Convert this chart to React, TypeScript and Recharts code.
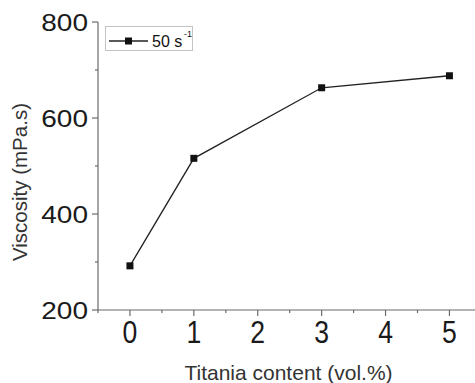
import React from "react";
import { LineChart, Line, XAxis, YAxis, Legend, Label } from "recharts";

// titania loading (vol.%) vs viscosity at 50 s^-1
const titaniaContent = [0, 1, 3, 5];
const viscosity = [292, 516, 663, 688];
const xTicks = [-0.5, 0, 0.5, 1, 1.5, 2, 2.5, 3, 3.5, 4, 4.5, 5];
const yTicks = [200, 300, 400, 500, 600, 700, 800];
const seriesName = "50 s";

const data = titaniaContent.map((c, i) => ({ content: c, viscosity: viscosity[i] }));

const FONT = "Arial, 'Liberation Sans', Helvetica, sans-serif";
const AXIS = "#6b6b6b";

const XTick = (props: any) => {
  const { x, y, payload } = props;
  const major = Number.isInteger(payload.value);
  return (
    <g>
      <line x1={x} x2={x} y1={y} y2={y + (major ? 6 : 3)} stroke={AXIS} strokeWidth={1.2} />
      {major && (
        <text
          transform={`translate(${x} ${y + 33}) scale(0.95 1.15)`}
          textAnchor="middle"
          fontSize={28}
          fontFamily={FONT}
          fill="#1a1a1a"
        >
          {payload.value}
        </text>
      )}
    </g>
  );
};

const YTick = (props: any) => {
  const { x, y, payload } = props;
  const major = payload.value % 200 === 0;
  return (
    <g>
      <line x1={x - (major ? 6 : 3)} x2={x} y1={y} y2={y} stroke={AXIS} strokeWidth={1.2} />
      {major && (
        <text
          transform={`translate(${x - 10} ${y + 9}) scale(1 0.87)`}
          textAnchor="end"
          fontSize={28}
          fontFamily={FONT}
          fill="#1a1a1a"
        >
          {payload.value}
        </text>
      )}
    </g>
  );
};

const SquareDot = (props: any) => {
  const { cx, cy, index } = props;
  return <rect key={index} x={cx - 3.5} y={cy - 3.5} width={7} height={7} fill="#111" />;
};

const LegendBox = (props: any) => {
  const entry = props.payload && props.payload[0];
  return (
    <svg width={88} height={25} style={{ display: "block" }}>
      <rect x={0.5} y={0.5} width={87} height={24} fill="#fff" stroke="#c4c4c4" />
      <line x1={4} x2={43} y1={15} y2={15} stroke="#222" strokeWidth={1.3} />
      <rect x={20} y={11.5} width={7} height={7} fill="#111" />
      <text x={47} y={21} fontSize={16} fontFamily={FONT} fill="#111">
        {entry ? entry.value : seriesName}
      </text>
      <text x={79} y={11} fontSize={9} fontFamily={FONT} fill="#111">
        -1
      </text>
    </svg>
  );
};

export default function App() {
  return (
    <div style={{ width: 475, height: 383 }}>
      <style>{`body{margin:0;background:#fff}`}</style>
      <LineChart
        width={475}
        height={383}
        data={data}
        margin={{ top: 22, right: 0, left: 0, bottom: 0 }}
      >
        <XAxis
          dataKey="content"
          type="number"
          domain={[-0.5, 5.4]}
          ticks={xTicks}
          allowDataOverflow
          height={73}
          tickSize={0}
          tickMargin={0}
          tickLine={false}
          tick={<XTick />}
          stroke={AXIS}
          strokeWidth={1.2}
          interval={0}
        >
          <Label
            content={(p: any) => {
              const vb = p.viewBox;
              return (
                <text
                  x={vb.x + vb.width / 2 + 2}
                  y={vb.y + 70}
                  textAnchor="middle"
                  fontSize={21}
                  fontFamily={FONT}
                  fill="#333"
                >
                  Titania content (vol.%)
                </text>
              );
            }}
          />
        </XAxis>
        <YAxis
          type="number"
          domain={[200, 800]}
          ticks={yTicks}
          width={98}
          tickSize={0}
          tickMargin={0}
          tickLine={false}
          tick={<YTick />}
          stroke={AXIS}
          strokeWidth={1.2}
          interval={0}
        >
          <Label
            content={(p: any) => {
              const vb = p.viewBox;
              const cx = 27;
              const cy = vb.y + vb.height / 2 + 16;
              return (
                <text
                  x={cx}
                  y={cy}
                  transform={`rotate(-90 ${cx} ${cy})`}
                  textAnchor="middle"
                  fontSize={20.5}
                  fontFamily={FONT}
                  fill="#333"
                >
                  Viscosity (mPa.s)
                </text>
              );
            }}
          />
        </YAxis>
        <Legend
          layout="horizontal"
          verticalAlign="middle"
          align="center"
          content={<LegendBox />}
          wrapperStyle={{ left: 105, top: 26, width: 88, height: 25 }}
        />
        <Line
          name={seriesName}
          dataKey="viscosity"
          stroke="#222"
          strokeWidth={1.3}
          dot={SquareDot}
          activeDot={false}
          isAnimationActive={false}
        />
      </LineChart>
    </div>
  );
}
